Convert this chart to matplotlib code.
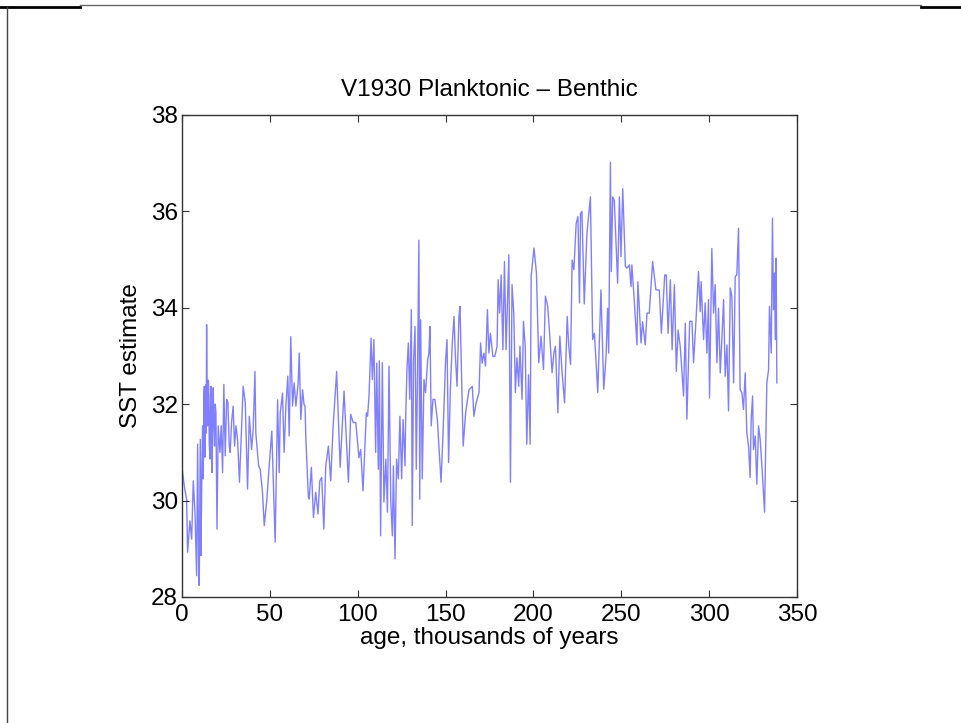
import numpy as np
import matplotlib
matplotlib.use("Agg")
import matplotlib.pyplot as plt
from matplotlib.lines import Line2D

plt.rcParams['font.family'] = ['Liberation Sans', 'DejaVu Sans']

# age (thousands of years) and SST estimate
age = [0.0, 1.3, 2.6, 3.2, 4.5, 5.5, 6.4, 7.4, 8.3, 8.9, 9.45, 9.8, 10.4, 10.8,
       11.2, 11.7, 12.1, 12.4, 12.7, 13.0, 13.2, 13.5, 13.8, 14.0, 14.3, 14.6,
       14.9, 15.1, 15.5, 15.9, 16.2, 16.5, 16.8, 17.0, 17.4, 17.8, 18.1, 18.5,
       18.9, 19.3, 19.9, 20.6, 21.6, 22.3, 23.1, 23.8, 24.6, 25.4, 26.1, 26.9,
       27.4, 28.2, 29.1, 29.9, 30.7, 31.6, 32.7, 34.8, 36.0, 37.3, 38.3, 39.6,
       40.5, 41.5, 42.0, 43.6, 44.5, 45.8, 46.8, 48.3, 49.6, 51.1, 53.0, 54.4,
       55.3, 55.9, 57.2, 58.1, 59.1, 60.2, 61.0, 61.9, 62.9, 63.8, 64.8, 66.1,
       66.7, 67.6, 68.6, 69.4, 70.0, 70.5, 71.9, 72.4, 73.6, 74.8, 76.1, 77.4,
       78.4, 79.5, 80.7, 81.8, 83.3, 84.6, 86.0, 88.0, 90.0, 92.2, 93.4, 94.7,
       96.0, 97.4, 98.9, 100.7, 101.7, 103.0, 104.9, 105.6, 106.4, 107.6, 108.3,
       109.2, 110.2, 110.8, 111.7, 112.3, 113.0, 114.0, 114.9, 116.0, 116.9,
       117.8, 118.8, 119.7, 120.3, 121.2, 122.1, 123.1, 124.0, 125.0, 125.8,
       126.9, 127.3, 128.0, 128.8, 129.6, 130.5, 131.0, 131.8, 132.6, 133.3,
       134.0, 134.8, 135.3, 135.8, 136.7, 137.7, 138.6, 139.8, 140.5, 141.1,
       141.8, 142.8, 143.9, 145.3, 146.2, 147.4, 148.7, 150.0, 150.8, 151.7,
       152.7, 153.8, 154.8, 155.5, 156.5, 157.6, 158.2, 159.2, 160.0, 161.4,
       163.3, 165.2, 166.1, 167.4, 169.0, 169.9, 170.8, 171.8, 172.7, 173.8,
       174.6, 175.5, 176.9, 178.0, 179.3, 179.9, 180.7, 181.6, 182.6, 183.5,
       184.4, 186.0, 186.9, 187.8, 188.8, 189.7, 190.6, 191.6, 192.3, 193.5,
       194.3, 195.3, 196.2, 197.2, 198.1, 198.7, 200.3, 201.7, 203.0, 204.3,
       205.7, 206.8, 208.1, 209.3, 210.6, 211.6, 212.5, 213.9, 215.0, 216.3,
       217.7, 219.2, 220.1, 221.1, 222.0, 223.0, 224.3, 225.3, 226.2, 226.8,
       227.6, 228.9, 230.4, 232.4, 233.7, 234.7, 236.6, 238.4, 240.0, 241.3,
       242.2, 242.8, 243.8, 244.3, 245.1, 246.0, 247.9, 248.9, 249.8, 250.8,
       252.3, 253.2, 254.6, 255.5, 256.0, 257.2, 258.9, 259.4, 260.2, 261.2,
       262.1, 263.6, 264.6, 265.9, 267.8, 269.7, 271.6, 272.8, 274.7, 275.6,
       276.6, 277.9, 278.9, 280.2, 281.3, 282.3, 283.5, 284.5, 285.4, 286.4,
       287.3, 288.9, 290.2, 291.1, 292.4, 293.9, 294.9, 295.4, 296.8, 297.7,
       298.7, 299.6, 300.2, 301.5, 302.5, 303.4, 304.4, 305.3, 306.3, 307.2,
       308.2, 309.1, 310.1, 311.0, 312.0, 312.9, 313.9, 314.8, 315.7, 316.7,
       317.6, 318.6, 319.5, 320.5, 321.4, 322.4, 323.3, 323.9, 324.7, 325.2,
       326.2, 327.1, 328.1, 329.0, 330.0, 331.5, 332.8, 333.8, 334.3, 335.3,
       336.0, 336.6, 337.2, 337.6, 338.1, 338.5]

sst = [30.68, 30.3, 30.03, 28.93, 29.58, 29.2, 30.41, 29.75, 28.44, 31.17, 28.79,
       28.24, 31.27, 28.86, 30.3, 31.55, 30.45, 32.1, 32.37, 30.9, 31.34, 32.4,
       31.4, 33.65, 31.7, 31.55, 32.5, 32.47, 31.2, 30.86, 32.2, 32.37, 31.1,
       30.58, 31.9, 32.34, 31.5, 31.13, 32.0, 31.82, 29.41, 31.55, 31.0, 31.55,
       30.58, 32.41, 30.93, 32.1, 32.03, 31.13, 31.0, 31.62, 31.96, 31.13, 31.55,
       31.27, 30.38, 32.37, 32.03, 30.24, 31.75, 31.06, 31.48, 32.68, 31.4, 30.72,
       30.65, 30.17, 29.48, 30.03, 30.72, 31.44, 29.14, 32.09, 30.58, 31.82, 32.23,
       31.0, 31.96, 32.58, 31.34, 33.4, 31.96, 32.44, 31.96, 32.44, 33.06, 31.68,
       32.3, 32.0, 31.96, 31.27, 30.07, 30.03, 30.69, 29.65, 30.17, 29.72, 30.41,
       30.48, 29.41, 30.72, 31.13, 30.41, 31.55, 32.68, 30.69, 32.27, 31.34, 30.38,
       31.79, 31.62, 31.62, 30.89, 31.06, 30.2, 31.82, 31.75, 32.16, 33.37, 32.51,
       33.34, 31.0, 32.85, 30.65, 32.9, 29.27, 32.86, 29.97, 30.86, 29.76, 32.79,
       29.97, 29.27, 30.72, 28.79, 30.86, 30.45, 31.75, 30.45, 31.68, 30.72, 31.75,
       32.72, 33.27, 32.1, 33.96, 29.48, 32.92, 33.61, 30.65, 32.58, 35.4, 30.03,
       33.75, 30.45, 32.51, 32.24, 32.92, 33.06, 33.61, 31.55, 32.1, 32.1, 31.68,
       31.13, 30.38, 31.55, 32.92, 33.34, 30.79, 32.3, 33.27, 33.82, 33.06, 32.37,
       33.82, 34.03, 32.37, 31.13, 31.82, 32.3, 32.37, 31.75, 32.03, 32.24, 33.27,
       32.85, 33.06, 32.79, 33.96, 33.06, 33.47, 32.99, 32.99, 33.2, 34.58, 33.89,
       34.68, 33.13, 34.96, 33.13, 35.1, 30.38, 34.48, 33.89, 32.24, 32.96, 32.37,
       33.2, 32.1, 33.72, 33.2, 31.17, 32.61, 31.17, 34.65, 35.24, 34.72, 32.86,
       33.41, 32.72, 34.24, 34.03, 33.41, 32.65, 33.06, 33.2, 31.82, 33.41, 32.65,
       32.03, 33.82, 33.2, 32.82, 34.99, 34.79, 35.75, 35.89, 34.1, 35.96, 36.0,
       34.08, 35.52, 36.3, 33.34, 33.47, 32.24, 34.37, 32.31, 32.99, 33.99, 33.06,
       37.02, 34.75, 36.3, 36.23, 34.51, 36.3, 35.06, 36.47, 34.86, 34.82, 34.89,
       34.44, 34.89, 34.24, 33.23, 34.54, 34.03, 33.27, 33.71, 33.23, 33.89, 33.89,
       34.96, 34.37, 34.37, 33.47, 34.68, 34.68, 33.47, 34.58, 33.13, 34.48, 32.68,
       33.54, 33.2, 32.68, 32.17, 33.68, 31.69, 33.72, 33.72, 32.86, 33.68, 34.75,
       33.92, 34.54, 33.34, 34.1, 33.06, 34.17, 32.13, 35.23, 33.89, 34.48, 32.86,
       33.99, 32.65, 33.34, 34.17, 32.58, 33.23, 31.86, 34.41, 34.24, 32.44, 34.65,
       34.68, 35.65, 32.3, 32.24, 31.89, 32.65, 31.41, 31.13, 30.48, 31.69, 32.17,
       31.06, 31.34, 30.34, 31.55, 31.27, 30.72, 29.76, 32.44, 32.72, 34.03, 33.06,
       35.86, 33.96, 34.72, 33.34, 35.03, 32.44]

xticks = [0, 50, 100, 150, 200, 250, 300, 350]
yticks = [28, 30, 32, 34, 36, 38]

fig = plt.figure(figsize=(9.61, 7.23), dpi=100)
ax = fig.add_axes([0.1894, 0.1743, 0.640, 0.6667])

ax.plot(age, sst, color='blue', alpha=0.5, lw=1.0)

ax.set_xlim(0, 350)
ax.set_ylim(28, 38)
ax.set_xticks(xticks)
ax.set_yticks(yticks)
ax.tick_params(direction='in', top=True, right=True, length=5, width=0.8,
               labelsize=17.5, color='#333333')
ax.tick_params(axis='x', pad=5)
ax.tick_params(axis='y', pad=3)
for s in ax.spines.values():
    s.set_color('#333333')
    s.set_linewidth(1.0)

ax.set_title('V1930 Planktonic \u2013 Benthic', fontsize=17.5, pad=14)
ax.set_xlabel('age, thousands of years', fontsize=17.5, labelpad=1)
ax.set_ylabel('SST estimate', fontsize=17.5, labelpad=6)

# screenshot frame lines
fig.add_artist(Line2D([0.0, 0.083], [0.991, 0.991], color='black', lw=2.0))
fig.add_artist(Line2D([0.083, 0.958], [0.993, 0.993], color='#666666', lw=1.0))
fig.add_artist(Line2D([0.958, 1.0], [0.991, 0.991], color='black', lw=2.0))
fig.add_artist(Line2D([0.007, 0.007], [0.0, 0.991], color='#444444', lw=1.0))

fig.savefig('out.png', dpi=100)
